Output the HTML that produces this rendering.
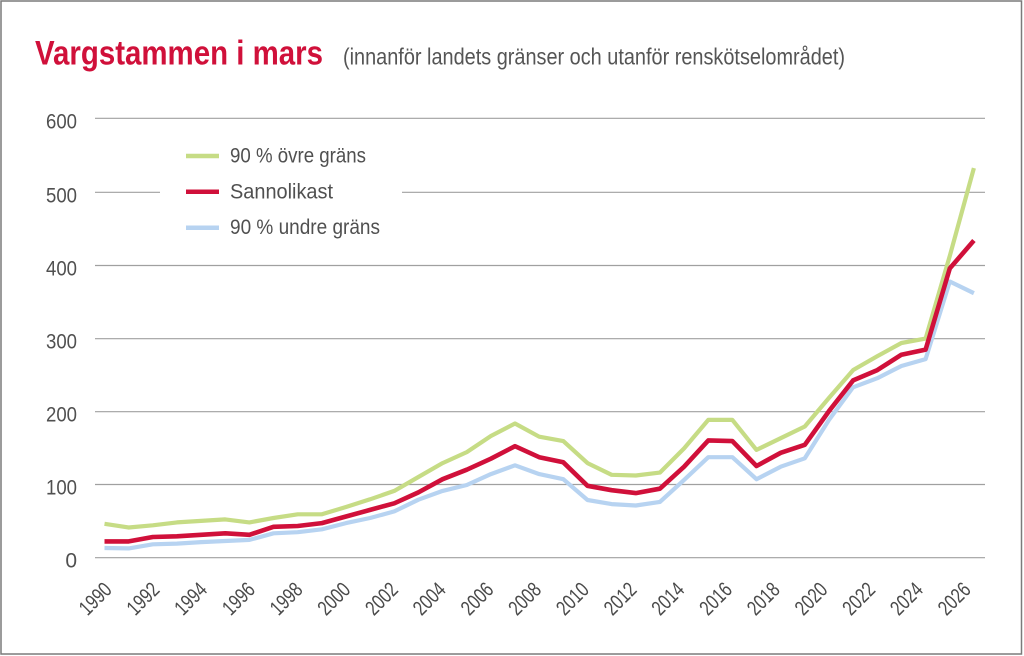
<!DOCTYPE html>
<html><head><meta charset="utf-8"><style>
html,body{margin:0;padding:0;background:#fff;}
svg{display:block;}
text{font-family:"Liberation Sans",sans-serif;}
</style></head><body>
<svg width="1024" height="656" viewBox="0 0 1024 656" xmlns="http://www.w3.org/2000/svg">
<rect x="0" y="0" width="1024" height="656" fill="#fff"/>
<rect x="1" y="1" width="1020.5" height="653" fill="none" stroke="#7a7a7a" stroke-width="1.5"/>
<text x="35" y="64.3" font-size="34" font-weight="bold" fill="#d0103a" textLength="288" lengthAdjust="spacingAndGlyphs">Vargstammen i mars</text>
<text x="343" y="64.3" font-size="23" fill="#555" textLength="502" lengthAdjust="spacingAndGlyphs">(innanför landets gränser och utanför renskötselområdet)</text>
<g stroke="#a0a0a0" stroke-width="1.2">
<line x1="95" y1="118.3" x2="985" y2="118.3"/>
<line x1="95" y1="192.3" x2="160" y2="192.3"/>
<line x1="402" y1="192.3" x2="985" y2="192.3"/>
<line x1="95" y1="265.5" x2="985" y2="265.5"/>
<line x1="95" y1="338.7" x2="985" y2="338.7"/>
<line x1="95" y1="411.7" x2="985" y2="411.7"/>
<line x1="95" y1="484.5" x2="985" y2="484.5"/>
<line x1="95" y1="557.7" x2="985" y2="557.7"/>
</g>
<g font-size="21" fill="#505050" text-anchor="end">
<text x="77" y="128.3" textLength="31" lengthAdjust="spacingAndGlyphs">600</text>
<text x="77" y="202.3" textLength="31" lengthAdjust="spacingAndGlyphs">500</text>
<text x="77" y="275.5" textLength="31" lengthAdjust="spacingAndGlyphs">400</text>
<text x="77" y="348.7" textLength="31" lengthAdjust="spacingAndGlyphs">300</text>
<text x="77" y="421.7" textLength="31" lengthAdjust="spacingAndGlyphs">200</text>
<text x="77" y="494.5" textLength="31" lengthAdjust="spacingAndGlyphs">100</text>
<text x="77" y="567.7">0</text>
</g>
<g id="xl" font-size="21" fill="#4a4a4a" text-anchor="end"></g>
<g fill="none" stroke-width="4.2" stroke-linejoin="round">
<polyline id="pb" stroke="#b7d3f1" points=""/>
<polyline id="pg" stroke="#c6dc85" points=""/>
<polyline id="pr" stroke="#d0103a" stroke-width="4.6" points=""/>
</g>
<g stroke-width="4.5">
<line x1="186" y1="156" x2="219" y2="156" stroke="#c6dc85"/>
<line x1="186" y1="191.7" x2="219" y2="191.7" stroke="#d0103a"/>
<line x1="186" y1="227.7" x2="219" y2="227.7" stroke="#b7d3f1"/>
</g>
<g font-size="21" fill="#505050">
<text x="230" y="162.7" textLength="136" lengthAdjust="spacingAndGlyphs">90 % övre gräns</text>
<text x="230" y="198.3" textLength="103" lengthAdjust="spacingAndGlyphs">Sannolikast</text>
<text x="230" y="234" textLength="150" lengthAdjust="spacingAndGlyphs">90 % undre gräns</text>
</g>
</svg>
<script>
var G=[46,41,44,48,50,52,48,54,59,59,69,79.5,91,110,129,144,166,183,165,159,129,113,112,116,149,188,188,147,163,179,218,256,275,293,299,412,532];
var R=[22,22,28,29,31,33,31,42,43,47,56,65,74,89,107,120,135,152,137,130,98,92,88,94,124,160,159,125,143,154,200,242,256,277,284,395,433];
var B=[13,12.5,18,19,21,22.5,24,33,34.5,38.5,47,54,63,79,91,99,114,126,114,107,78.5,73,71,76,106,137,137,107,124,135.5,188,232.5,245,261.6,271,377,361];
function pts(a){return a.map(function(v,i){return (104.5+i*24.15).toFixed(1)+","+(557.5-v*0.732).toFixed(1);}).join(" ");}
document.getElementById("pg").setAttribute("points",pts(G));
document.getElementById("pr").setAttribute("points",pts(R));
document.getElementById("pb").setAttribute("points",pts(B));
var g=document.getElementById("xl"),ns="http://www.w3.org/2000/svg";
for(var y=1990;y<=2026;y+=2){var i=y-1990;var ex=113+i*23.86,ey=591;
var t=document.createElementNS(ns,"text");t.setAttribute("x",ex.toFixed(1));t.setAttribute("y",ey);
t.setAttribute("transform","rotate(-45 "+ex.toFixed(1)+" "+ey+")");t.setAttribute("textLength","36");t.setAttribute("lengthAdjust","spacingAndGlyphs");
t.textContent=y;g.appendChild(t);}
</script>
</body></html>
